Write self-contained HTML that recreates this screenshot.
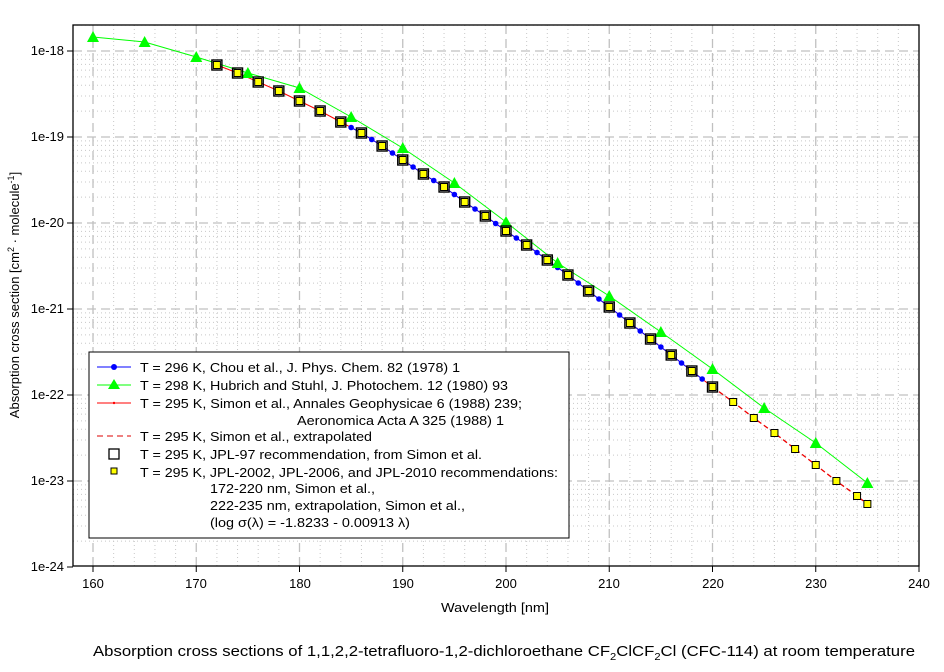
<!DOCTYPE html>
<html><head><meta charset="utf-8"><style>
body{margin:0;background:#fff;}
svg text{font-family:"Liberation Sans",Arial,sans-serif;font-size:13px;fill:#000;}
</style></head><body>
<svg id="s" width="944" height="667" xmlns="http://www.w3.org/2000/svg">
<g id="grid"></g>
<g id="data"></g>
<rect x="73" y="25" width="846" height="541" fill="none" stroke="#000" stroke-width="1.3"/>
<g id="ticks"></g>
<text x="64" y="55" text-anchor="end">1e-18</text>
<text x="64" y="141" text-anchor="end">1e-19</text>
<text x="64" y="227" text-anchor="end">1e-20</text>
<text x="64" y="313" text-anchor="end">1e-21</text>
<text x="64" y="399" text-anchor="end">1e-22</text>
<text x="64" y="485" text-anchor="end">1e-23</text>
<text x="64" y="571" text-anchor="end">1e-24</text>
<text x="93" y="588" text-anchor="middle">160</text>
<text x="196" y="588" text-anchor="middle">170</text>
<text x="300" y="588" text-anchor="middle">180</text>
<text x="403" y="588" text-anchor="middle">190</text>
<text x="506" y="588" text-anchor="middle">200</text>
<text x="609" y="588" text-anchor="middle">210</text>
<text x="713" y="588" text-anchor="middle">220</text>
<text x="816" y="588" text-anchor="middle">230</text>
<text x="919" y="588" text-anchor="middle">240</text>
<text x="441" y="612" textLength="108" lengthAdjust="spacingAndGlyphs">Wavelength [nm]</text>
<text transform="translate(19,295) rotate(-90)" text-anchor="middle">Absorption cross section [cm<tspan dy="-5" font-size="9">2</tspan><tspan dy="5"> · molecule</tspan><tspan dy="-5" font-size="9">-1</tspan><tspan dy="5">]</tspan></text>
<text x="93" y="656" style="font-size:15px" textLength="822" lengthAdjust="spacingAndGlyphs">Absorption cross sections of 1,1,2,2-tetrafluoro-1,2-dichloroethane CF<tspan dy="4" font-size="10">2</tspan><tspan dy="-4">ClCF</tspan><tspan dy="4" font-size="10">2</tspan><tspan dy="-4">Cl (CFC-114) at room temperature</tspan></text>
<rect x="89" y="352" width="480" height="186" fill="#fff" stroke="#000" stroke-width="1"/>
<line x1="97" y1="367" x2="131" y2="367" stroke="#00f"/><circle cx="114" cy="367" r="3" fill="#00f"/>
<line x1="97" y1="385" x2="131" y2="385" stroke="#0f0"/><polygon points="114,379 108,389 120,389" fill="#0f0"/>
<line x1="97" y1="403" x2="131" y2="403" stroke="#f00"/><circle cx="114" cy="403" r="1.2" fill="#f00"/>
<line x1="97" y1="436" x2="131" y2="436" stroke="#d00" stroke-dasharray="6,4"/>
<rect x="109" y="449" width="10" height="10" fill="none" stroke="#000" stroke-width="1.3"/>
<rect x="111" y="468" width="6" height="6" fill="#ff0" stroke="#000"/>
<g style="font-size:14px">
<text x="140" y="372" textLength="320" lengthAdjust="spacingAndGlyphs">T = 296 K, Chou et al., J. Phys. Chem. 82 (1978) 1</text>
<text x="140" y="390" textLength="368" lengthAdjust="spacingAndGlyphs">T = 298 K, Hubrich and Stuhl, J. Photochem. 12 (1980) 93</text>
<text x="140" y="408" textLength="382" lengthAdjust="spacingAndGlyphs">T = 295 K, Simon et al., Annales Geophysicae 6 (1988) 239;</text>
<text x="297" y="425" textLength="207" lengthAdjust="spacingAndGlyphs">Aeronomica Acta A 325 (1988) 1</text>
<text x="140" y="441" textLength="232" lengthAdjust="spacingAndGlyphs">T = 295 K, Simon et al., extrapolated</text>
<text x="140" y="459" textLength="342" lengthAdjust="spacingAndGlyphs">T = 295 K, JPL-97 recommendation, from Simon et al.</text>
<text x="140" y="477" textLength="418" lengthAdjust="spacingAndGlyphs">T = 295 K, JPL-2002, JPL-2006, and JPL-2010 recommendations:</text>
<text x="210" y="493" textLength="165" lengthAdjust="spacingAndGlyphs">172-220 nm, Simon et al.,</text>
<text x="210" y="510" textLength="255" lengthAdjust="spacingAndGlyphs">222-235 nm, extrapolation, Simon et al.,</text>
<text x="210" y="527" textLength="200" lengthAdjust="spacingAndGlyphs">(log σ(λ) = -1.8233 - 0.00913 λ)</text>
</g>
</svg>
<script>
var NS="http://www.w3.org/2000/svg";
function X(l){return 93+(l-160)*10.325;}
function el(p,t,a){var e=document.createElementNS(NS,t);for(var k in a)e.setAttribute(k,a[k]);document.getElementById(p).appendChild(e);return e;}
for(var l=160;l<=240;l+=2){var x=X(l);if(x<74||x>918)continue;
 if(l%10==0) el("grid","line",{x1:x,y1:25,x2:x,y2:566,stroke:"#c0c0c0","stroke-dasharray":"9,5","stroke-width":1.3});
 else el("grid","line",{x1:x,y1:25,x2:x,y2:566,stroke:"#c8c8c8","stroke-dasharray":"1,3"});}
for(var d=18;d<=24;d++){var y0=51+(d-18)*86;
 if(d<24) el("grid","line",{x1:73,y1:y0,x2:919,y2:y0,stroke:"#c0c0c0","stroke-dasharray":"9,5","stroke-width":1.3});
 el("ticks","line",{x1:67,y1:y0,x2:73,y2:y0,stroke:"#000"});}
for(var d=17;d<=23;d++){
 for(var m=2;m<=9;m++){var y=51+(d+1-18)*86-86*Math.log10(m); if(y>25&&y<566) el("grid","line",{x1:73,y1:y,x2:919,y2:y,stroke:"#c8c8c8","stroke-dasharray":"1,3"});}}
for(var l=160;l<=240;l+=10) el("ticks","line",{x1:X(l),y1:566,x2:X(l),y2:572,stroke:"#000"});
var green=[[160,37],[165,42],[170,57],[175,73],[180,88],[185,117],[190,148],[195,183],[200,222],[205,263],[210,296],[215,332],[220,369],[225,408],[230,443],[235,483]];
var sq={172:65,174:73,176:82,178:91,180:101,182:111,184:122,186:133,188:146,190:160,192:174,194:187,196:202,198:216,200:231,202:245,204:260,206:275,208:291,210:307,212:323,214:339,216:355,218:371,220:387,222:402,224:418,226:433,228:449,230:465,232:481,234:496,235:504};
function pts(arr){return arr.map(function(p){return X(p[0])+","+p[1];}).join(" ");}
el("data","polyline",{points:pts(green),fill:"none",stroke:"#0f0","stroke-width":1});
var red=[],ext=[];for(var k in sq){k=+k;if(k<=220)red.push([k,sq[k]]);if(k>=220)ext.push([k,sq[k]]);}
el("data","polyline",{points:pts(red),fill:"none",stroke:"#f00","stroke-width":1});
el("data","polyline",{points:pts(ext),fill:"none",stroke:"#e00","stroke-width":1.3,"stroke-dasharray":"5,3"});
var blue=[];for(var l=185;l<=219;l++){var a=Math.floor(l/2)*2,b=a+2;var ya=sq[a],yb=sq[b]||sq[a];var y=ya+(yb-ya)*(l-a)/2;blue.push([l,y]);}
el("data","polyline",{points:pts(blue),fill:"none",stroke:"#00f","stroke-width":1});
blue.forEach(function(p){el("data","circle",{cx:X(p[0]),cy:p[1],r:2.8,fill:"#00f"});});
red.forEach(function(p){el("data","circle",{cx:X(p[0]),cy:p[1],r:1,fill:"#f00"});});
green.forEach(function(p){var x=X(p[0]),y=p[1];el("data","polygon",{points:(x)+","+(y-6)+" "+(x-6)+","+(y+5)+" "+(x+6)+","+(y+5),fill:"#0f0"});});
red.forEach(function(p){var x=X(p[0]),y=p[1];el("data","rect",{x:x-5,y:y-5,width:10,height:10,fill:"none",stroke:"#000","stroke-width":1.4});});
for(var k in sq){var x=X(+k),y=sq[k];el("data","rect",{x:x-3.5,y:y-3.5,width:7,height:7,fill:"#ff0",stroke:"#000","stroke-width":1});}
</script>
</body></html>
